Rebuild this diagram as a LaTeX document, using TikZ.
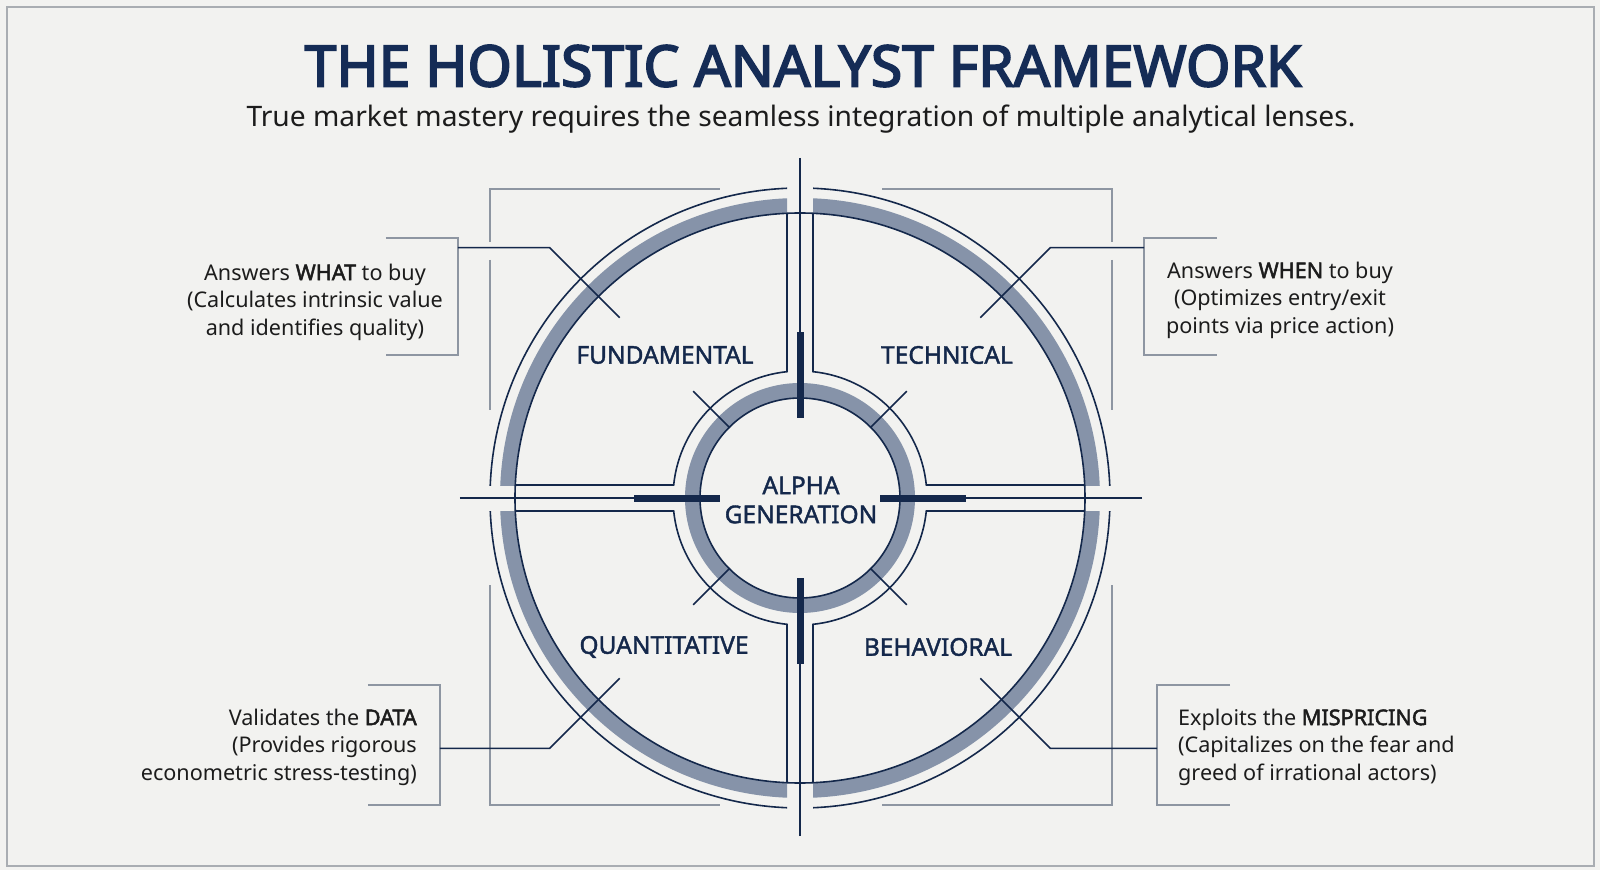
\documentclass[tikz,border=0pt]{standalone}
\usepackage{fontspec}
\setmainfont{Noto Sans}[AutoFakeBold=2.2]
\newfontfamily\heavyfont{Noto Sans}[FakeBold=3.2]
\newfontfamily\semifont{Noto Sans}[FakeBold=1.6]
\definecolor{navy}{HTML}{14284B}
\definecolor{titlenavy}{HTML}{152C56}
\definecolor{bandgray}{HTML}{8693A9}
\definecolor{framegray}{HTML}{8E96A2}
\definecolor{bordergray}{HTML}{A9ADB2}
\definecolor{bgcol}{HTML}{F2F2F0}
\definecolor{textdark}{HTML}{1C1C1C}
\tikzset{
  navyline/.style={draw=navy, line width=1.6},
  thickbar/.style={draw=navy, line width=7},
  framel/.style={draw=framegray, line width=1.4},
  brk/.style={draw=framegray, line width=1.4},
  qlabel/.style={text=navy, font=\semifont\fontsize{24.5}{28}\selectfont, inner sep=0},
  calltext/.style={text=textdark, font=\fontsize{21.6}{27.5}\selectfont, inner sep=0},
}
\begin{document}
\begin{tikzpicture}[x=1pt,y=1pt]
\useasboundingbox (-800,-372) rectangle (800,498);
\fill[bgcol] (-800,-372) rectangle (800,498);
\draw[bordergray, line width=1.8] (-793,491) rectangle (794,-368);

% title
\node[text=titlenavy, font=\heavyfont\fontsize{57}{60}\selectfont, inner sep=0] (title) at (3,432) {THE HOLISTIC ANALYST FRAMEWORK};
\node[text=textdark, font=\fontsize{28.2}{32}\selectfont, inner sep=0] (subtitle) at (1,379) {True market mastery requires the seamless integration of multiple analytical lenses.};

% gray frame corners
\draw[framel] (-80,309) -- (-310,309) -- (-310,256);
\draw[framel] (-310,238) -- (-310,88);
\draw[framel] (82,309) -- (312,309) -- (312,256);
\draw[framel] (312,238) -- (312,88);
\draw[framel] (-310,-87) -- (-310,-307) -- (-80,-307);
\draw[framel] (312,-87) -- (312,-307) -- (82,-307);

% quadrant bands and outer arcs
\foreach \a in {0,90,180,270}{
  \begin{scope}[rotate=\a]
    \clip (13,13) rectangle (400,400);
    \fill[bandgray, even odd rule] (0,0) circle[radius=300] (0,0) circle[radius=285];
    \draw[navyline] (0,0) circle[radius=310];
  \end{scope}
}
% inner ring
\draw[bandgray, line width=15] (0,0) circle[radius=107.5];
\draw[navyline] (0,0) circle[radius=100];
\draw[navyline] (0,0) circle[radius=285];

% quadrant outlines
\foreach \a in {0,90,180,270}{
  \draw[navyline] (\a+2.615:285) -- (\a+5.875:127)
     arc[start angle=\a+5.875, end angle=\a+84.125, radius=127] -- (\a+87.385:285);
}

% axes
\draw[navyline] (0,340) -- (0,166);
\draw[navyline] (0,-338) -- (0,-166);
\draw[navyline] (-340,0) -- (-166,0);
\draw[navyline] (342,0) -- (166,0);
\draw[thickbar] (0,80) -- (0,166);
\draw[thickbar] (0,-80) -- (0,-166);
\draw[thickbar] (-80,0) -- (-166,0);
\draw[thickbar] (80,0) -- (166,0);

% inner ticks
\foreach \a in {45,135,225,315}{
  \draw[navyline] (\a:99) -- (\a:151);
}

% labels
\node[qlabel] (fund) at (-135,143) {FUNDAMENTAL};
\node[qlabel] (tech) at (147,143) {TECHNICAL};
\node[qlabel] (quant) at (-136,-149) {QUANTITATIVE};
\node[qlabel] (behav) at (138,-149) {BEHAVIORAL};
\node[text=navy, font=\semifont\fontsize{24.5}{29}\selectfont, align=center, inner sep=0] (alpha) at (1,-2) {ALPHA\\GENERATION};

% callout brackets
\draw[brk] (-414,260) -- (-342,260) -- (-342,143) -- (-414,143);
\draw[brk] (417,260) -- (344,260) -- (344,143) -- (417,143);
\draw[brk] (-432,-187) -- (-360,-187) -- (-360,-307) -- (-432,-307);
\draw[brk] (430,-187) -- (357,-187) -- (357,-307) -- (430,-307);

% callout connector coordinates
\coordinate (tlIn) at (135:255);
\coordinate (tlEl) at (135:354);
\coordinate (tlBr) at (-342,250.3);
\coordinate (trIn) at (45:255);
\coordinate (trEl) at (45:354);
\coordinate (trBr) at (344,250.3);
\coordinate (blIn) at (225:255);
\coordinate (blEl) at (225:354);
\coordinate (blBr) at (-360,-250.3);
\coordinate (brIn) at (315:255);
\coordinate (brEl) at (315:354);
\coordinate (brBr) at (357,-250.3);
\draw[navyline] (tlIn) -- (tlEl) -- (tlBr);
\draw[navyline] (trIn) -- (trEl) -- (trBr);
\draw[navyline] (blIn) -- (blEl) -- (blBr);
\draw[navyline] (brIn) -- (brEl) -- (brBr);

% callout texts
\node[calltext, align=center] (tlText) at (-485,196) {Answers \textbf{WHAT} to buy\\(Calculates intrinsic value\\and identifies quality)};
\node[calltext, align=center] (trText) at (480,198) {Answers \textbf{WHEN} to buy\\(Optimizes entry/exit\\points via price action)};
\node[calltext, align=right, anchor=east] (blText) at (-383,-249) {Validates the \textbf{DATA}\\(Provides rigorous\\econometric stress-testing)};
\node[calltext, align=left, anchor=west] (brText) at (378,-249) {Exploits the \textbf{MISPRICING}\\(Capitalizes on the fear and\\greed of irrational actors)};
\end{tikzpicture}
\end{document}
